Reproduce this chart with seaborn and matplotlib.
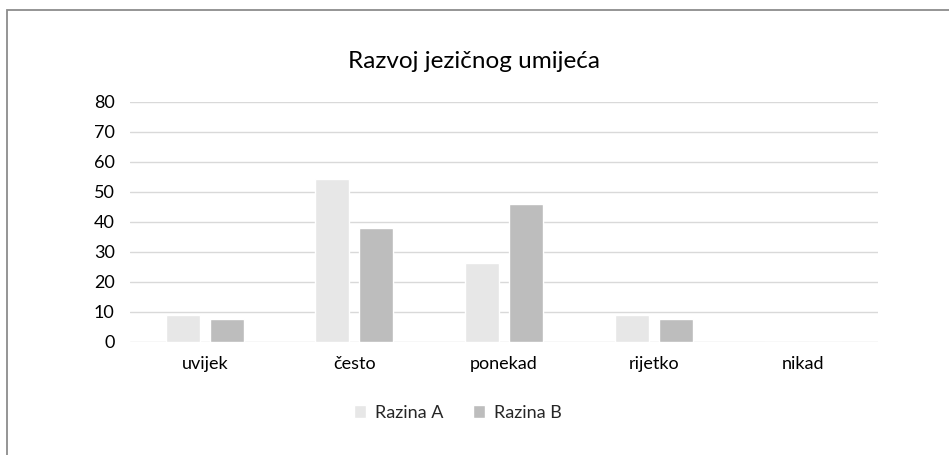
import numpy as np
import pandas as pd
import matplotlib.pyplot as plt
import seaborn as sns
from matplotlib.patches import Rectangle

# === Data ===
categories = ["uvijek", "često", "ponekad", "rijetko", "nikad"]
razina_a = [9.1, 54.4, 26.4, 9.1, 0]
razina_b = [7.8, 38.1, 46.1, 7.8, 0]
series_names = ["Razina A", "Razina B"]
colors = ["#E7E7E7", "#BDBDBD"]

df = pd.DataFrame({
    "kategorija": categories * 2,
    "vrijednost": razina_a + razina_b,
    "razina": [series_names[0]] * len(categories) + [series_names[1]] * len(categories),
})

sns.set_style("white")
plt.rcParams["font.family"] = ["Lato", "DejaVu Sans"]

fig = plt.figure(figsize=(9.49, 4.55), dpi=100)
ax = fig.add_axes([130 / 949, 1 - 342 / 455, 748 / 949, 240 / 455])

sns.barplot(data=df, x="kategorija", y="vrijednost", hue="razina",
            palette=colors, width=0.588, gap=0.228, ax=ax, legend=True)

ax.set_ylim(0, 80)
ax.set_yticks(range(0, 81, 10))
ax.yaxis.grid(True, color="#D9D9D9", linewidth=1)
ax.set_axisbelow(True)
for s in ax.spines.values():
    s.set_visible(False)
ax.tick_params(axis="both", length=0, labelsize=13, colors="#000000")
ax.tick_params(axis="y", pad=11)
ax.tick_params(axis="x", pad=10)
ax.set_xlabel("")
ax.set_ylabel("")

fig.text(0.5, 1 - 62 / 455, "Razvoj jezičnog umijeća", ha="center", va="center",
         fontsize=17.5, color="#000000")

ax.legend(loc="center", bbox_to_anchor=(458 / 949, 1 - 413 / 455),
          bbox_transform=fig.transFigure, ncol=2, frameon=False,
          fontsize=13, handlelength=0.7, handleheight=0.7,
          handletextpad=0.5, columnspacing=1.6)

# outer frame (left and top edges visible)
fig.patches.append(Rectangle((6.5 / 949, -0.1), 1.2, 1 - 9.5 / 455 + 0.1,
                             transform=fig.transFigure, fill=False,
                             edgecolor="#8C8C8C", linewidth=1.3))

fig.savefig("out.png", dpi=100)
